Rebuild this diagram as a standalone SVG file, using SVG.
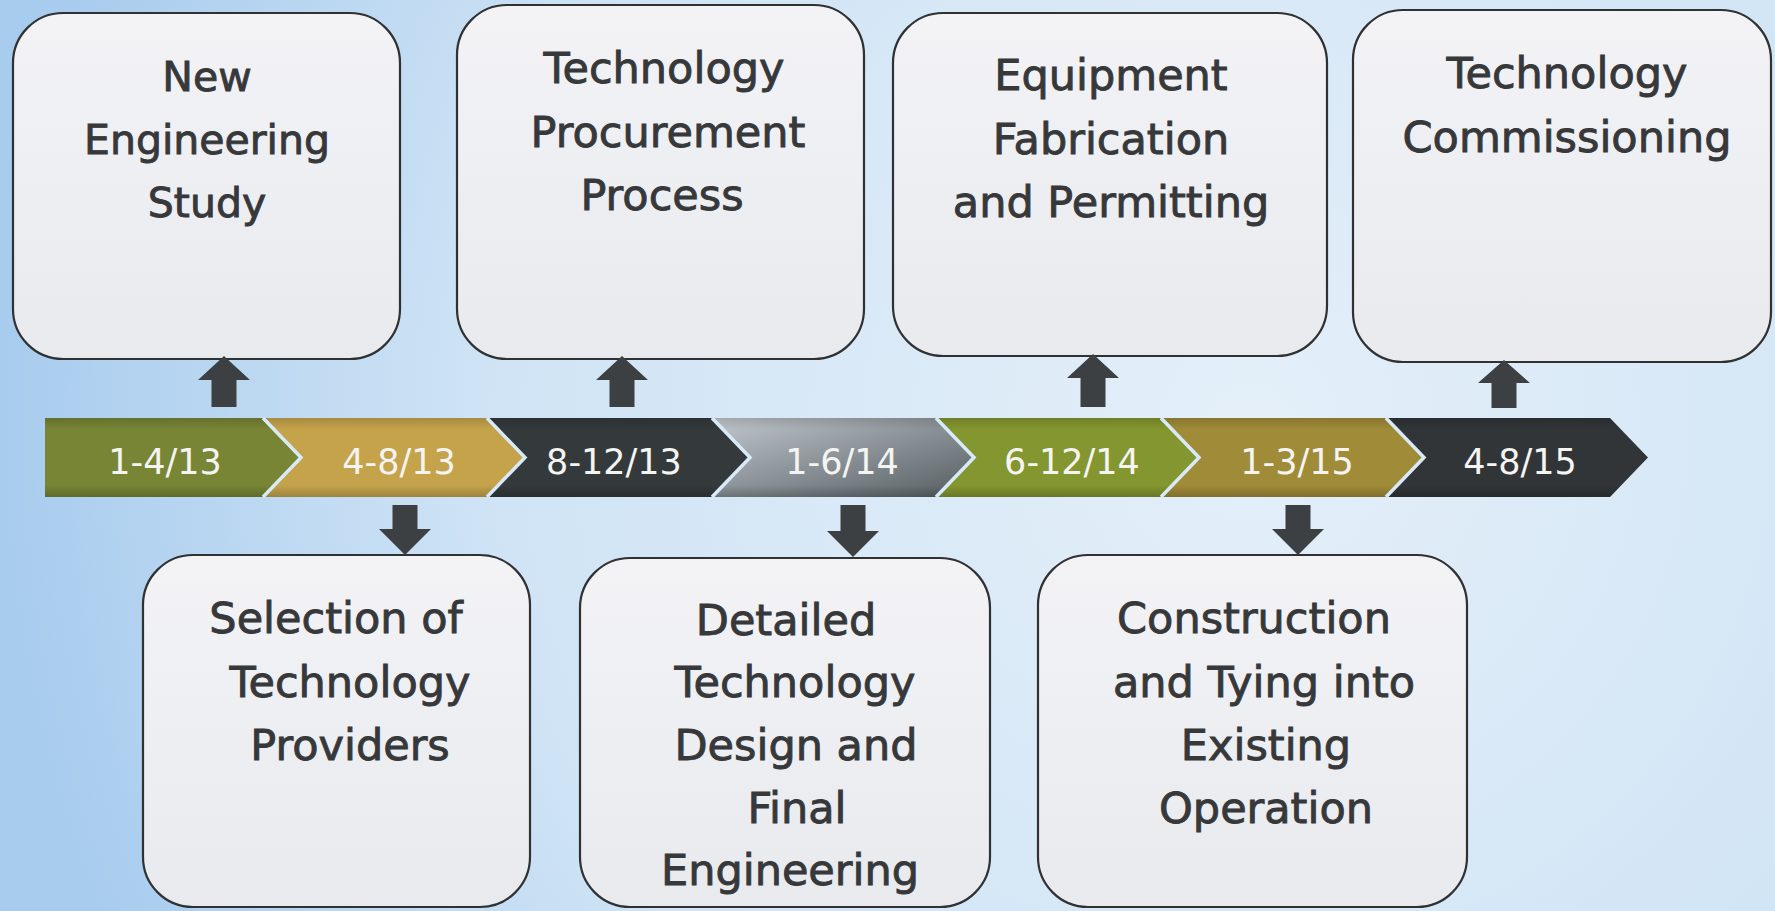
<svg xmlns="http://www.w3.org/2000/svg" width="1775" height="911" viewBox="0 0 1775 911">
  <defs>
    <radialGradient id="bg" cx="1250" cy="430" r="1250" gradientUnits="userSpaceOnUse">
      <stop offset="0" stop-color="#e4eff9"/>
      <stop offset="0.6" stop-color="#d0e4f5"/>
      <stop offset="1" stop-color="#a8ccee"/>
    </radialGradient>
    <linearGradient id="boxFill" x1="0" y1="0" x2="0" y2="1">
      <stop offset="0" stop-color="#f3f3f6"/>
      <stop offset="1" stop-color="#e8eaee"/>
    </linearGradient>
    <linearGradient id="silver" x1="0" y1="0" x2="1" y2="1">
      <stop offset="0" stop-color="#c3c9ce"/>
      <stop offset="0.45" stop-color="#8f979c"/>
      <stop offset="1" stop-color="#565d61"/>
    </linearGradient>
    <linearGradient id="shade" x1="0" y1="0" x2="0" y2="1">
      <stop offset="0" stop-color="#000" stop-opacity="0.15"/>
      <stop offset="0.15" stop-color="#000" stop-opacity="0"/>
      <stop offset="0.85" stop-color="#000" stop-opacity="0"/>
      <stop offset="1" stop-color="#000" stop-opacity="0.2"/>
    </linearGradient>
    <style>
      .box { fill: url(#boxFill); stroke: #2f3133; stroke-width: 2.2; }
      .label { font-family: "DejaVu Sans", "Liberation Sans", sans-serif; font-size: 43px; fill: #36383a; stroke: #36383a; stroke-width: 0.9; text-anchor: middle; }
      .small { font-size: 41px; }
      .date { font-family: "DejaVu Sans", "Liberation Sans", sans-serif; font-size: 35px; fill: #f4f4f2; text-anchor: middle; }
      .arrow { fill: #3c4043; }
      .sep { fill: none; stroke: #d8eaf8; stroke-width: 3.5; stroke-linejoin: miter; }
    </style>
  </defs>

  <!-- background -->
  <rect x="0" y="0" width="1775" height="911" fill="url(#bg)"/>

  <!-- timeline band -->
  <g id="timeline">
    <path d="M45,418 L263,418 L301,457.5 L263,497 L45,497 Z" fill="#778535"/>
    <path d="M263,418 L487,418 L525,457.5 L487,497 L263,497 L301,457.5 Z" fill="#c5a34b"/>
    <path d="M487,418 L712,418 L750,457.5 L712,497 L487,497 L525,457.5 Z" fill="#34393b"/>
    <path d="M712,418 L936,418 L974,457.5 L936,497 L712,497 L750,457.5 Z" fill="url(#silver)"/>
    <path d="M936,418 L1161,418 L1199,457.5 L1161,497 L936,497 L974,457.5 Z" fill="#84962f"/>
    <path d="M1161,418 L1386,418 L1424,457.5 L1386,497 L1161,497 L1199,457.5 Z" fill="#a08b38"/>
    <path d="M1386,418 L1610,418 L1648,457.5 L1610,497 L1386,497 L1424,457.5 Z" fill="#313537"/>
    <path d="M45,418 L1610,418 L1648,457.5 L1610,497 L45,497 Z" fill="url(#shade)"/>
    <polyline class="sep" points="263,418 301,457.5 263,497"/>
    <polyline class="sep" points="487,418 525,457.5 487,497"/>
    <polyline class="sep" points="712,418 750,457.5 712,497"/>
    <polyline class="sep" points="936,418 974,457.5 936,497"/>
    <polyline class="sep" points="1161,418 1199,457.5 1161,497"/>
    <polyline class="sep" points="1386,418 1424,457.5 1386,497"/>
    <text class="date" x="165" y="474">1-4/13</text>
    <text class="date" x="399" y="474">4-8/13</text>
    <text class="date" x="614" y="474">8-12/13</text>
    <text class="date" x="842" y="474">1-6/14</text>
    <text class="date" x="1072" y="474">6-12/14</text>
    <text class="date" x="1297" y="474">1-3/15</text>
    <text class="date" x="1520" y="474">4-8/15</text>
  </g>

  <!-- upper stages -->
  <g id="new-engineering-study">
    <rect class="box" x="13" y="13" width="387" height="346" rx="50"/>
    <text class="label small" x="207" y="91">New</text>
    <text class="label small" x="207" y="154">Engineering</text>
    <text class="label small" x="207" y="217">Study</text>
  </g>
  <g id="technology-procurement">
    <rect class="box" x="457" y="5" width="407" height="354" rx="50"/>
    <text class="label" x="664" y="83">Technology</text>
    <text class="label" x="668" y="147">Procurement</text>
    <text class="label" x="662" y="210">Process</text>
  </g>
  <g id="equipment-fabrication">
    <rect class="box" x="893" y="13" width="434" height="343" rx="50"/>
    <text class="label" x="1111" y="90">Equipment</text>
    <text class="label" x="1111" y="154">Fabrication</text>
    <text class="label" x="1111" y="217">and Permitting</text>
  </g>
  <g id="technology-commissioning">
    <rect class="box" x="1353" y="10" width="418" height="352" rx="50"/>
    <text class="label" x="1567" y="88">Technology</text>
    <text class="label" x="1567" y="152">Commissioning</text>
  </g>

  <!-- lower stages -->
  <g id="selection-providers">
    <rect class="box" x="143" y="555" width="387" height="352" rx="50"/>
    <text class="label" x="336" y="633">Selection of</text>
    <text class="label" x="350" y="697">Technology</text>
    <text class="label" x="350" y="760">Providers</text>
  </g>
  <g id="detailed-design">
    <rect class="box" x="580" y="558" width="410" height="349" rx="50"/>
    <text class="label" x="786" y="635">Detailed</text>
    <text class="label" x="795" y="697">Technology</text>
    <text class="label" x="796" y="760">Design and</text>
    <text class="label" x="797" y="823">Final</text>
    <text class="label" x="790" y="885">Engineering</text>
  </g>
  <g id="construction">
    <rect class="box" x="1038" y="555" width="429" height="352" rx="50"/>
    <text class="label" x="1254" y="633">Construction</text>
    <text class="label" x="1264" y="697">and Tying into</text>
    <text class="label" x="1266" y="760">Existing</text>
    <text class="label" x="1266" y="823">Operation</text>
  </g>

  <!-- block arrows linking the timeline to each stage -->
  <g id="connectors">
    <path class="arrow" d="M224,356 L250,380 L236.5,380 L236.5,407 L211.5,407 L211.5,380 L198,380 Z"/>
    <path class="arrow" d="M622,356 L648,380 L634.5,380 L634.5,407 L609.5,407 L609.5,380 L596,380 Z"/>
    <path class="arrow" d="M1093,354 L1119,378 L1105.5,378 L1105.5,407 L1080.5,407 L1080.5,378 L1067,378 Z"/>
    <path class="arrow" d="M1504,360 L1530,383 L1516.5,383 L1516.5,408 L1491.5,408 L1491.5,383 L1478,383 Z"/>
    <path class="arrow" d="M405,555 L431,529 L417.5,529 L417.5,505 L392.5,505 L392.5,529 L379,529 Z"/>
    <path class="arrow" d="M853,557 L879,531 L865.5,531 L865.5,505 L840.5,505 L840.5,531 L827,531 Z"/>
    <path class="arrow" d="M1298,555 L1324,529 L1310.5,529 L1310.5,505 L1285.5,505 L1285.5,529 L1272,529 Z"/>
  </g>
</svg>
